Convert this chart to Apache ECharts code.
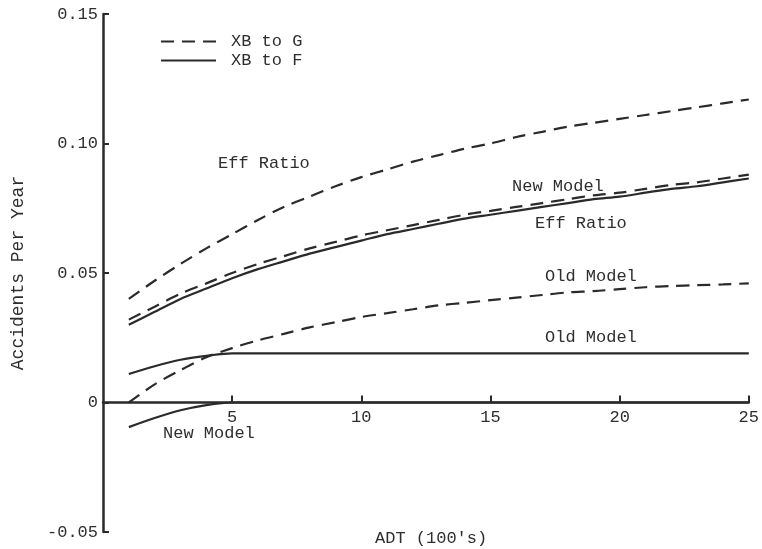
<!DOCTYPE html>
<html><head><meta charset="utf-8">
<script src="https://cdn.jsdelivr.net/npm/echarts@6/dist/echarts.min.js"></script>
<style>html,body{margin:0;padding:0;background:#fff}#c{width:762px;height:549px}</style>
</head><body><div id="c"></div>
<script>
// ADT (100's)
const adt = [1,2,3,4,5,6,7,8,9,10,11,12,13,14,15,16,17,18,19,20,21,22,23,24,25];
// XB to G (dashed)
const effRatioG = [0.040,0.047,0.0535,0.0595,0.065,0.0705,0.0755,0.0795,0.0835,0.087,0.090,0.093,0.0955,0.098,0.100,0.1025,0.1045,0.1065,0.108,0.1095,0.111,0.1125,0.114,0.1155,0.117];
const newModelG = [0.032,0.037,0.042,0.046,0.050,0.0535,0.0565,0.0595,0.062,0.0645,0.0665,0.0685,0.0705,0.0725,0.074,0.0755,0.077,0.0785,0.080,0.081,0.0825,0.084,0.085,0.0865,0.088];
const oldModelG = [0.000,0.007,0.0125,0.0175,0.021,0.024,0.0265,0.029,0.031,0.033,0.0345,0.036,0.0375,0.0385,0.0395,0.0405,0.0415,0.0425,0.043,0.0438,0.0445,0.045,0.0453,0.0456,0.046];
// XB to F (solid)
const effRatioF = [0.030,0.035,0.040,0.044,0.048,0.0515,0.0545,0.0575,0.060,0.0625,0.065,0.067,0.069,0.071,0.0725,0.074,0.0755,0.077,0.0785,0.0795,0.081,0.0825,0.0835,0.085,0.0865];
const oldModelF = [0.011,0.014,0.0165,0.018,0.019,0.019,0.019,0.019,0.019,0.019,0.019,0.019,0.019,0.019,0.019,0.019,0.019,0.019,0.019,0.019,0.019,0.019,0.019,0.019,0.019];
const newModelF = [-0.0095,-0.006,-0.003,-0.001,0,0,0,0,0,0,0,0,0,0,0,0,0,0,0,0,0,0,0,0,0];
const legendNames = ['XB to G','XB to F'];

const FONT = '"Liberation Mono","DejaVu Sans Mono",monospace';
const INK = '#2a2a2a';
const TXT = '#2e2e2e';
const pairs = arr => adt.map((x,i)=>[x,arr[i]]);

function mk(name, arr, dashed){
  return {
    name, type:'line', data:pairs(arr), smooth:0.3,
    symbol:'none', showSymbol:false, silent:true,
    lineStyle:{color:INK, width:2.2, type: dashed ? [13,8] : 'solid'},
    itemStyle:{color:INK}
  };
}

const chart = echarts.init(document.getElementById('c'), null, {renderer:'canvas'});
const txt = (text,x,y,extra) => Object.assign({type:'text', left:x, top:y, style:{text, font:'17px '+FONT, fill:TXT}}, extra||{});
chart.setOption({
  backgroundColor:'#fff',
  animation:false,
  grid:{left:103,right:5,top:14,bottom:17,containLabel:false},
  legend:{
    data:legendNames, orient:'vertical', left:155, top:28,
    itemWidth:55, itemHeight:12, itemGap:2,
    itemStyle:{opacity:0},
    textStyle:{fontFamily:FONT, fontSize:17, color:TXT, padding:[0,0,0,10], lineHeight:17},
    selectedMode:false
  },
  xAxis:{
    type:'value', min:0, max:25, interval:5,
    axisLine:{onZero:true, lineStyle:{color:INK, width:2.5}},
    axisTick:{inside:true, length:7, lineStyle:{color:INK, width:2}},
    axisLabel:{showMinLabel:false, fontFamily:FONT, fontSize:17, color:TXT, margin:-123},
    splitLine:{show:false}
  },
  yAxis:{
    type:'value', min:-0.05, max:0.15, interval:0.05,
    name:'Accidents Per Year', nameLocation:'middle', nameGap:76,
    nameTextStyle:{fontFamily:FONT, fontSize:18, color:TXT},
    axisLine:{show:true, onZero:false, lineStyle:{color:INK, width:2.5}},
    axisTick:{show:true, inside:true, length:6, lineStyle:{color:INK, width:2}},
    axisLabel:{fontFamily:FONT, fontSize:17, color:TXT, margin:5,
      formatter:v => Math.abs(v)<1e-9 ? '0' : v.toFixed(2)},
    splitLine:{show:false}
  },
  graphic:[
    txt('Eff Ratio',218,155),
    txt('New Model',512,178),
    txt('Eff Ratio',535,215),
    txt('Old Model',545,268),
    txt('Old Model',545,329),
    txt('New Model',163,425),
    txt("ADT (100's)",375,530)
  ],
  series:[
    mk('XB to G', effRatioG, true),
    mk('XB to G', newModelG, true),
    mk('XB to G', oldModelG, true),
    mk('XB to F', effRatioF, false),
    mk('XB to F', oldModelF, false),
    mk('XB to F', newModelF, false)
  ]
});
</script></body></html>
